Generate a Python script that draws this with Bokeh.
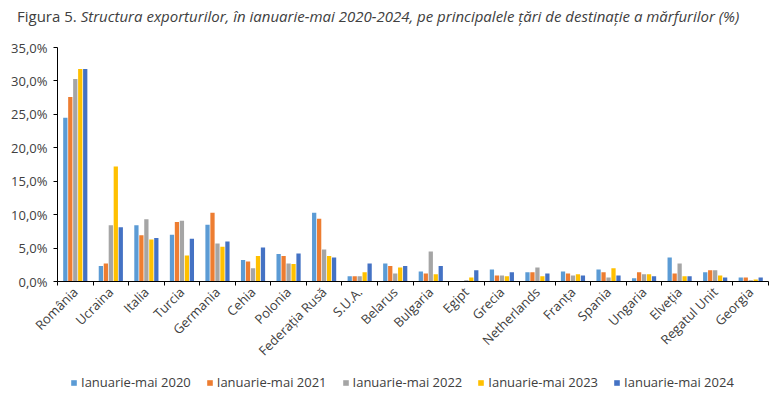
import math
from bokeh.plotting import figure
from bokeh.layouts import column
from bokeh.models import (ColumnDataSource, Range1d, FixedTicker, Legend, LegendItem, Div)
from bokeh.transform import dodge
from bokeh.embed import file_html
from bokeh.resources import INLINE

countries = ["România", "Ucraina", "Italia", "Turcia", "Germania", "Cehia", "Polonia",
             "Federația Rusă", "S.U.A.", "Belarus", "Bulgaria", "Egipt", "Grecia",
             "Netherlands", "Franța", "Spania", "Ungaria", "Elveția", "Regatul Unit", "Georgia"]

y2020 = [24.5, 2.3, 8.4, 7.0, 8.5, 3.2, 4.1, 10.3, 0.8, 2.7, 1.5, 0.0, 1.8, 1.4, 1.5, 1.8, 0.5, 3.6, 1.4, 0.6]
y2021 = [27.6, 2.7, 6.9, 8.9, 10.3, 3.0, 3.8, 9.4, 0.8, 2.3, 1.2, 0.0, 0.9, 1.4, 1.2, 1.4, 1.4, 1.2, 1.7, 0.6]
y2022 = [30.3, 8.4, 9.3, 9.1, 5.7, 2.0, 2.7, 4.8, 0.8, 1.2, 4.5, 0.2, 0.9, 2.1, 0.9, 0.6, 1.1, 2.7, 1.7, 0.2]
y2023 = [31.8, 17.2, 6.3, 3.9, 5.2, 3.8, 2.6, 3.8, 1.4, 2.1, 1.1, 0.6, 0.8, 0.8, 1.1, 2.0, 1.1, 0.8, 0.9, 0.3]
y2024 = [31.8, 8.1, 6.5, 6.4, 6.0, 5.1, 4.2, 3.6, 2.7, 2.3, 2.3, 1.7, 1.4, 1.2, 0.9, 0.9, 0.8, 0.8, 0.6, 0.6]

series_names = ["Ianuarie-mai 2020", "Ianuarie-mai 2021", "Ianuarie-mai 2022",
                "Ianuarie-mai 2023", "Ianuarie-mai 2024"]
series_values = [y2020, y2021, y2022, y2023, y2024]
colors = ["#5B9BD5", "#ED7D31", "#A5A5A5", "#FFC000", "#4472C4"]

y_ticks = [0, 5, 10, 15, 20, 25, 30, 35]
y_tick_labels = ["0,0%", "5,0%", "10,0%", "15,0%", "20,0%", "25,0%", "30,0%", "35,0%"]

title_plain = "Figura 5."
title_italic = "Structura exporturilor, în ianuarie-mai 2020-2024, pe principalele țări de destinație a mărfurilor (%)"

FONT = "Open Sans"
TEXT_COLOR = "#404040"

n = len(countries)
centers = [i + 0.5 for i in range(n)]
data = {"x": centers}
for k, vals in enumerate(series_values):
    data["s%d" % k] = vals
source = ColumnDataSource(data)

TITLE_H = 34
MAIN_H = 334
LEG_H = 395 - TITLE_H - MAIN_H - 1

title = Div(text="%s <i>%s</i>" % (title_plain, title_italic), width=777, height=TITLE_H, margin=0,
            styles={"font-family": FONT, "font-size": "15px", "color": TEXT_COLOR,
                    "padding-left": "17px", "padding-top": "6px", "white-space": "nowrap"})

p = figure(width=777, height=MAIN_H, output_backend="svg", toolbar_location=None,
           x_range=Range1d(0, n), y_range=Range1d(0, 35),
           min_border_left=57, min_border_right=9, min_border_top=47 - TITLE_H,
           min_border_bottom=MAIN_H - (283 - TITLE_H), margin=0)
p.outline_line_color = None
p.xgrid.grid_line_color = None
p.ygrid.grid_line_color = None
p.background_fill_color = "white"
p.border_fill_color = "white"

offsets = [-0.28, -0.14, 0.0, 0.14, 0.28]
renderers = []
for k in range(5):
    r = p.vbar(x=dodge("x", offsets[k]), top="s%d" % k, width=0.12,
               source=source, fill_color=colors[k], line_color=None)
    renderers.append(r)

# x axis
xa = p.xaxis[0]
xa.ticker = FixedTicker(ticks=centers, minor_ticks=list(range(n + 1)))
xa.major_label_overrides = {c: name for c, name in zip(centers, countries)}
xa.major_label_orientation = math.pi / 4
xa.major_tick_out = 0
xa.major_tick_in = 0
xa.minor_tick_out = 4
xa.minor_tick_in = 0
xa.minor_tick_line_color = "#000000"
xa.axis_line_color = "#000000"
xa.major_label_text_font = FONT
xa.major_label_text_font_size = "13px"
xa.major_label_text_color = TEXT_COLOR
xa.major_label_standoff = 4

# y axis
ya = p.yaxis[0]
ya.ticker = FixedTicker(ticks=y_ticks)
ya.major_label_overrides = {t: l for t, l in zip(y_ticks, y_tick_labels)}
ya.minor_tick_line_color = None
ya.major_tick_out = 4
ya.major_tick_in = 0
ya.major_tick_line_color = "#000000"
ya.axis_line_color = "#000000"
ya.major_label_text_font = FONT
ya.major_label_text_font_size = "13px"
ya.major_label_text_color = TEXT_COLOR
ya.major_label_standoff = 6

# legend in its own strip below the chart (hidden copies of the series supply the swatches)
pl = figure(width=777, height=LEG_H, output_backend="svg", toolbar_location=None,
            x_axis_type=None, y_axis_type=None, x_range=Range1d(0, n), y_range=Range1d(0, 35),
            min_border=0, margin=0)
pl.outline_line_color = None
pl.xgrid.grid_line_color = None
pl.ygrid.grid_line_color = None
leg_renderers = []
for k in range(5):
    leg_renderers.append(pl.vbar(x=dodge("x", offsets[k]), top="s%d" % k, width=0.12,
                                 source=source, fill_color=colors[k], line_color=None,
                                 visible=False))

legend = Legend(items=[LegendItem(label=series_names[k], renderers=[leg_renderers[k]]) for k in range(5)],
                orientation="horizontal", location=(13, 3),
                label_text_font=FONT, label_text_font_size="13px", label_text_color=TEXT_COLOR,
                glyph_width=7, glyph_height=7, label_standoff=4, spacing=15,
                border_line_color=None, background_fill_alpha=0, padding=0, margin=0)
pl.add_layout(legend)

layout = column(title, p, pl, spacing=0)
open("out.html", "w").write(file_html(layout, INLINE))
